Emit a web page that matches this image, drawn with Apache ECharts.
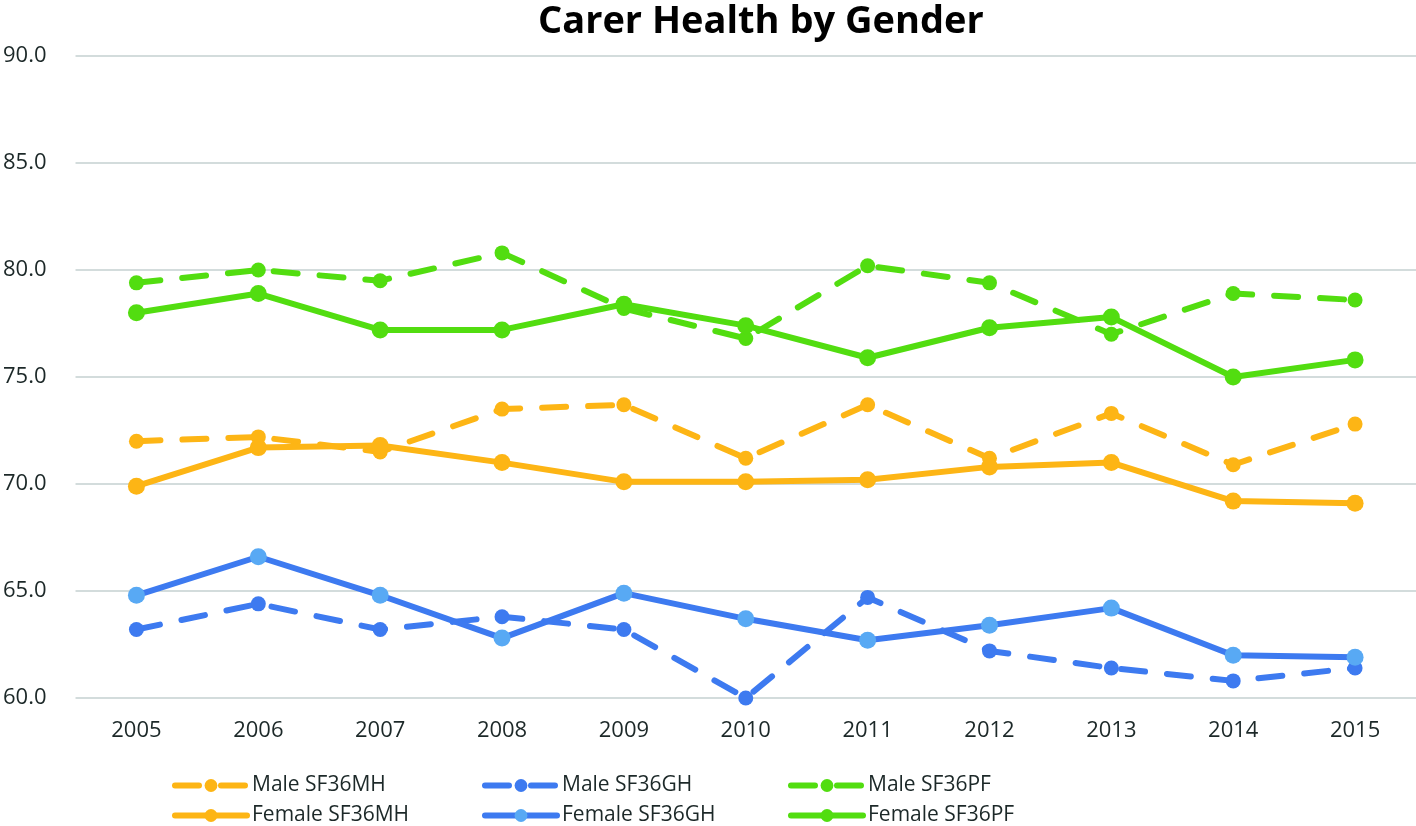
<!DOCTYPE html>
<html>
<head>
<meta charset="utf-8">
<script src="https://cdn.jsdelivr.net/npm/echarts@6/dist/echarts.min.js"></script>
<style>
  html, body { margin: 0; padding: 0; background: #fff; }
  #chart { width: 1416px; height: 826px; }
</style>
</head>
<body>
<div id="chart"></div>
<script>
var years = ['2005','2006','2007','2008','2009','2010','2011','2012','2013','2014','2015'];

var maleMH   = [72.0, 72.2, 71.5, 73.5, 73.7, 71.2, 73.7, 71.2, 73.3, 70.9, 72.8];
var femaleMH = [69.9, 71.7, 71.8, 71.0, 70.1, 70.1, 70.2, 70.8, 71.0, 69.2, 69.1];
var maleGH   = [63.2, 64.4, 63.2, 63.8, 63.2, 60.0, 64.7, 62.2, 61.4, 60.8, 61.4];
var femaleGH = [64.8, 66.6, 64.8, 62.8, 64.9, 63.7, 62.7, 63.4, 64.2, 62.0, 61.9];
var malePF   = [79.4, 80.0, 79.5, 80.8, 78.2, 76.8, 80.2, 79.4, 77.0, 78.9, 78.6];
var femalePF = [78.0, 78.9, 77.2, 77.2, 78.4, 77.4, 75.9, 77.3, 77.8, 75.0, 75.8];

var ORANGE = '#FDB515';
var BLUE = '#3D7AF0';
var LIGHTBLUE = '#58A9F4';
var GREEN = '#52DD10';
var TXT = '#1c2828';
var FONT = 'Open Sans';

function mkSeries(name, data, color, dashed, markerColor) {
  return {
    name: name,
    type: 'line',
    data: data,
    symbol: 'circle',
    symbolSize: dashed ? 15 : 17,
    itemStyle: { color: markerColor || color },
    lineStyle: {
      color: color,
      width: 6,
      type: dashed ? [24, 22] : 'solid',
      cap: 'round'
    },
    emphasis: { disabled: true },
    z: dashed ? 2 : 3
  };
}

var chart = echarts.init(document.getElementById('chart'));

function legendCol(left, names) {
  return {
    orient: 'vertical',
    left: left,
    top: 770,
    height: 80,
    itemWidth: 72,
    itemHeight: 16,
    itemGap: 9,
    lineStyle: { width: 6, cap: 'round' },
    textStyle: { fontSize: 21, color: TXT, fontFamily: FONT },
    selectedMode: false,
    data: names
  };
}

chart.setOption({
  animation: false,
  title: {
    text: 'Carer Health by Gender',
    left: 533,
    top: -2,
    textStyle: { fontSize: 38, fontWeight: 'bold', color: '#000', fontFamily: FONT }
  },
  legend: [
    legendCol(167, ['Male SF36MH', 'Female SF36MH']),
    legendCol(477, ['Male SF36GH', 'Female SF36GH']),
    legendCol(783, ['Male SF36PF', 'Female SF36PF'])
  ],
  grid: { left: 73, right: 0, top: 56, bottom: 128 },
  xAxis: {
    type: 'category',
    data: years,
    boundaryGap: true,
    axisLine: { show: false },
    axisTick: { show: false },
    axisLabel: { fontSize: 22, color: TXT, fontFamily: FONT, margin: 22 }
  },
  yAxis: {
    type: 'value',
    min: 60,
    max: 90,
    interval: 5,
    axisLabel: {
      fontSize: 22, color: TXT, fontFamily: FONT, margin: 29,
      formatter: function (v) { return v.toFixed(1); }
    },
    splitLine: { lineStyle: { color: '#d3dcdc', width: 2 } }
  },
  series: [
    mkSeries('Male SF36MH', maleMH, ORANGE, true),
    mkSeries('Female SF36MH', femaleMH, ORANGE, false),
    mkSeries('Male SF36GH', maleGH, BLUE, true),
    mkSeries('Female SF36GH', femaleGH, BLUE, false, LIGHTBLUE),
    mkSeries('Male SF36PF', malePF, GREEN, true),
    mkSeries('Female SF36PF', femalePF, GREEN, false)
  ]
});
</script>
</body>
</html>
